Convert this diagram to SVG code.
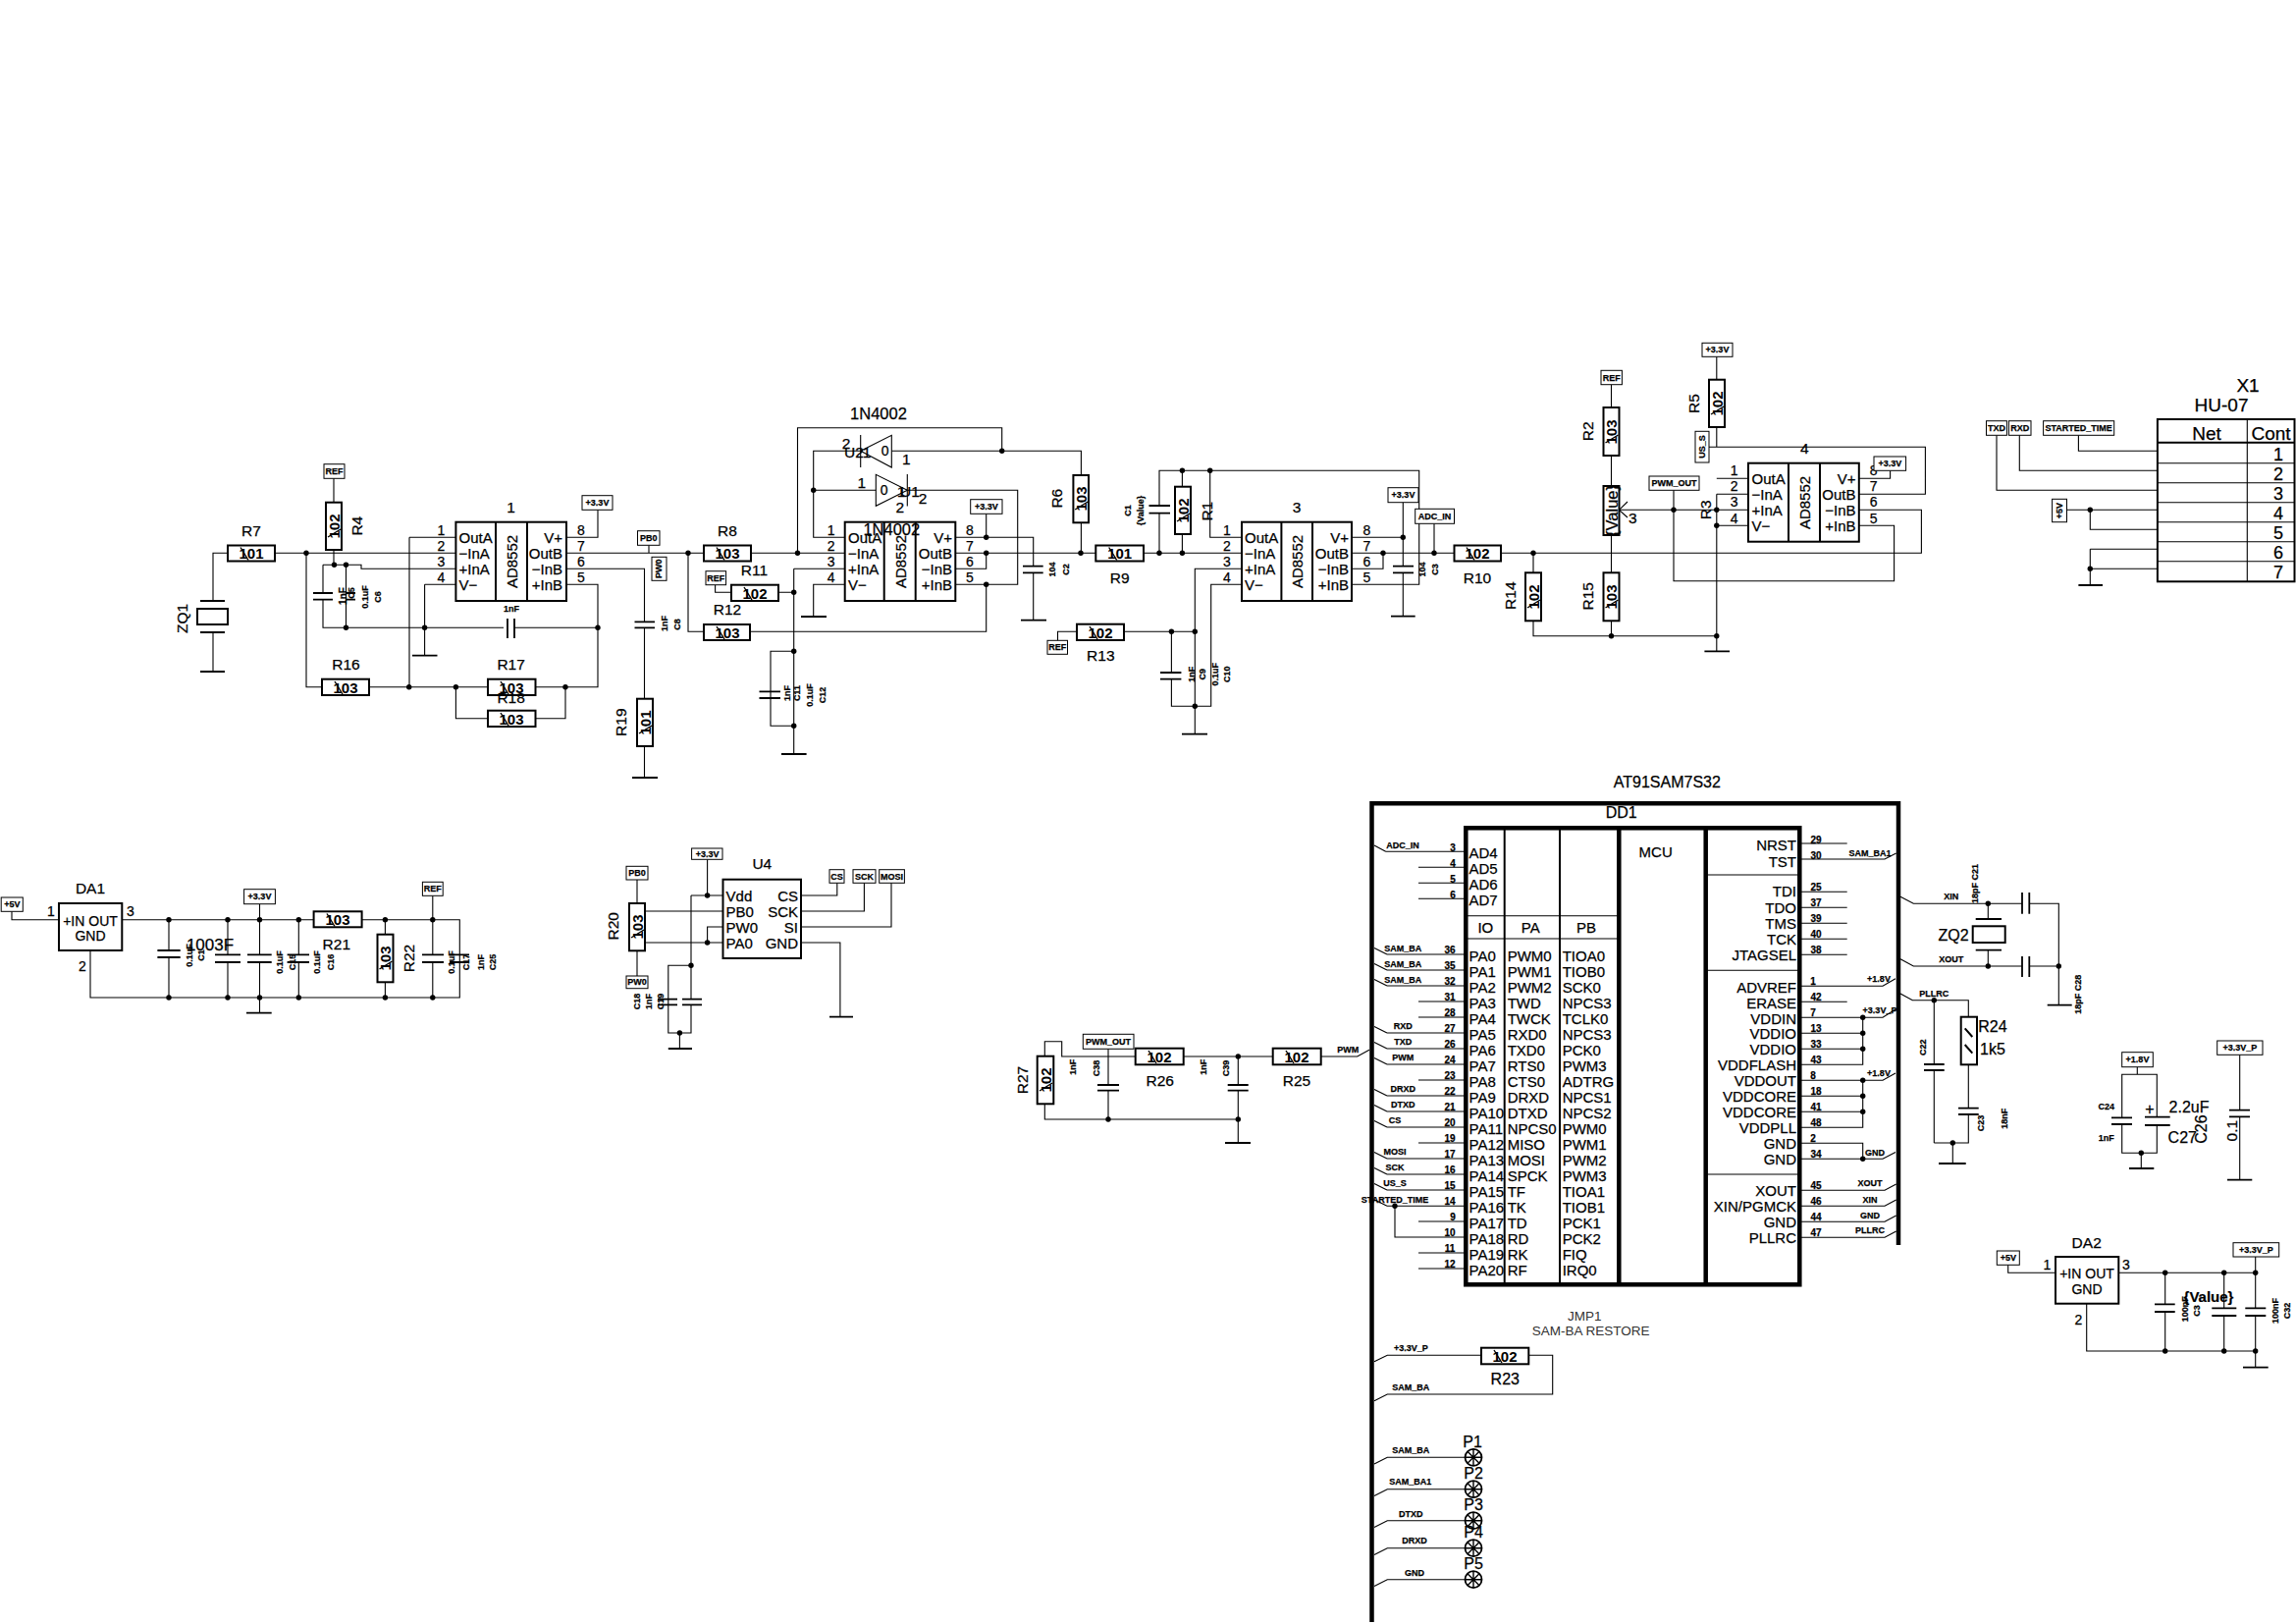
<svg xmlns="http://www.w3.org/2000/svg" width="2339" height="1654" viewBox="0 0 2339 1654">
<style>
text{font-family:"Liberation Sans",Arial,sans-serif;fill:#000;stroke:#000;stroke-width:.25;text-anchor:middle;dominant-baseline:central}
.l{font-size:15.5px}.p{font-size:14px}.i{font-size:15px;text-anchor:start}.e{font-size:15px;text-anchor:end}
.st{text-anchor:start}.dn{font-size:16.5px}
.s{font-size:9px;font-weight:700}.m{font-size:10px;font-weight:700}
.v{font-size:15px;font-weight:700;stroke-width:0}.big{font-size:19px}
.w,.pl,.r,.b,.c,.th,.sl{fill:none;stroke:#000}
.w{stroke-width:1.1}.pl{stroke-width:1.8}.r{stroke-width:2}.b{stroke-width:1;fill:#fff}.c{stroke-width:2}.th{stroke-width:4.5}.sl{stroke-width:1.4}
.d{fill:#000}
</style>
<defs>
<path id="sl" class="sl" d="M-11-6L-3 7"/>
<circle id="dot" class="d" r="2.7"/>
<g id="star"><circle r="8.5" fill="#fff" stroke="#000" stroke-width="1.8"/><path class="sl" d="M-8.5 0H8.5M-6-6L6 6M-6 6L6-6M0-8.5V8.5"/></g>
</defs>
<g id="connectors">
<path class="w" d="M232 563.3H217V612M217 644V684M280 563.3H464.4M312 563.3V699.7H328M340 487V512M340 560V575.3M329 575.3H368V579.3H464.4M329 575.3V604M329 611V639.3H513M524 639.3H609M352.5 575.3V639.3M417 547.3H464.4M417 547.3V699.7M432.6 595.3H464.4M432.6 595.3V667.7M376 699.7H497M545.5 699.7H609V595.3H577M464.4 699.7V731.7H497M545.5 731.7H576V699.7M577 547.3H609V519.3M577 563.3H717M577 579.3H656.5V633.3M656.5 639.3V711.7M656.5 760V792M661 555.3V563.3M701 563.3V643.3H717M765 563.3H860.7M812.5 563.3V435.7H1020.7V459.3M728.6 595.7V603.3H745M793 603.3H808.7M808.7 579.3V768M808.7 579.3H860.7M808.7 663.3H785V739.3H808.7"/>
<path class="w" d="M860.7 547.3H828.7V459.3H876.7M828.7 499.3H892.3M908.3 459.3H1101.4V484M1101.4 532.3V563.3M924.3 499.3H1036.7V595.3H973.3M1004.7 595.3V643.3H764M860.7 595.3H828.7V628M973.3 547.3H1052.7V576.7M1052.7 583.3V631.7M1004.7 547.3V523.3M973.3 563.3H1116.3M973.3 579.3H1004.7V563.3M1165 563.3H1265M1181 563.3V522.7M1181 515V479.3H1445.7V595.3H1377M1204.4 479.3V495.7M1204.4 544V563.3M1232.7 479.3V547.3H1265M1265 579.3H1217.3V747.7M1265 595.3H1233.7V719.3H1193.4V691.7M1193.4 685V643.3M1145 643.3H1217.3M1097 643.3H1077.5V652.3M1377 547.3H1429.3M1429.3 511.7V576.7M1429.3 583.3V627.7M1377 563.3H1481.5M1409 563.3V579.3H1377M1461 533.3V563.3"/>
<path class="w" d="M1529 563.3H1957.4V519.3H1893.8M1562 563.3V583.3M1562 632.3V647.7H1748.8M1641.5 391.7V415M1641.5 464V495M1641.5 545V583.3M1641.5 632.3V647.7M1649.4 519.3H1781M1705 499.3V591.7H1929.6V535.3H1893.8M1649.4 519.3L1658 511M1649.4 519.3L1658 527M1748.8 363.3V386.7M1748.8 435V455.3H1961.4V503.3H1893.8M1741 455.3H1748.8M1748.8 487.3H1781M1748.8 503.3H1781M1748.8 535.3H1781M1748.8 503.3V663.3M1893.8 487.3H1925.6V479.3"/>
<path class="w" d="M2034 443.3V499.3H2197.9M2057.3 443.3V479.3H2197.9M2117.4 443.3V459.3H2197.9M2105.5 519.3H2197.9M2129.3 519.3V539.3H2197.9M2129.3 559.3H2197.9M2129.3 559.3V596M2129.3 579.3H2197.9"/>
<path class="w" d="M12 928.3V936.7H60M124.3 936.7H319.6M368.6 936.7H468.3V1016H92V968M172 936.7V968M172 975V1016M232 936.7V972.3M232 980V1016M264.5 920.7V972.3M264.5 980V1031.7M304.3 936.7V972.3M304.3 980V1016M392.4 936.7V951.7M392.4 1000.3V1016M440.8 912.3V972.3M440.8 980V1016"/>
<path class="w" d="M720.6 875.3V912M704 912H736.5M704 912V1017.7M704 1023.3V1052H680.8V983.3H704M692.4 1052V1068M649 896V920M649 968.3V994M657 928H736.5M657 960H736.5M720.6 960V944H736.5M816 912H852.8V899.3M816 928H880.4V899.3M816 944H908V899.3M816 960H855.9V1035.7"/>
<path class="w" d="M1064.3 1075.7V1060.7H1081.7V1076H1156.7M1064.3 1124.3V1140H1261.3M1129 1068.3V1105M1129 1110.7V1140M1205.7 1076H1296.7M1261.3 1076V1105M1261.3 1110.7V1164M1345.7 1076H1382.7L1395 1069.3"/>
<path class="w" d="M1411.7 867.3H1493M1400 861L1411.7 867.3M1445 883.3H1493M1445 899.3H1493M1445 915.3H1493M1413 972H1493M1400 965.5L1413 972M1413 988H1493M1400 981.5L1413 988M1413 1004H1493M1400 997.5L1413 1004M1445 1020H1493M1445 1036H1493M1413 1052H1493M1400 1045.5L1413 1052M1413 1068H1493M1400 1061.5L1413 1068M1413 1084H1493M1400 1077.5L1413 1084M1445 1100H1493M1413 1116H1493M1400 1109.5L1413 1116M1413 1132H1493M1400 1125.5L1413 1132M1413 1148H1493M1400 1141.5L1413 1148M1445 1164H1493M1413 1180H1493M1400 1173.5L1413 1180M1413 1196H1493M1400 1189.5L1413 1196M1413 1212H1493M1400 1205.5L1413 1212M1413 1228.3H1493M1400 1221.8L1413 1228.3M1421 1228.3V1260H1493M1445 1244H1493M1445 1276H1493M1445 1292H1493"/>
<path class="w" d="M1833 859H1881.7M1833 875H1920L1931.7 869M1833 908.3H1881.7M1833 924.3H1881.7M1833 940.3H1881.7M1833 956.3H1881.7M1833 972.3H1881.7M1833 1004.3H1918L1931 996.7M1833 1020.3H1881.7M1833 1036.3H1918L1931 1028M1833 1052.3H1897.7M1833 1068.3H1897.7M1833 1084.3H1897.7V1036.3M1833 1100.3H1918L1931 1093M1833 1116.3H1897.7M1833 1132.3H1897.7M1833 1148.3H1897.7V1100.3M1833 1164.3H1897.7V1180.3M1833 1180.3H1918L1931 1173.5M1833 1212.3H1920L1931.7 1206M1833 1228.3H1920L1931.7 1222M1833 1244.3H1920L1931.7 1238M1833 1260.3H1920L1931.7 1254"/>
<path class="w" d="M1936 913.3L1949.3 920.3H2060M2067.3 920.3H2097.3V1023.7M1936 976.7L1949.3 984H2060M2067.3 984H2097.3M2025.3 920.3V936M2025.3 967.7V984M1936 1012L1948.3 1018.7H2005.3V1035.7M2005.3 1084.3V1128.7M2005.3 1135V1164H1970.3M1970.3 1018.7V1084M1970.3 1090V1164M1989.3 1164V1185"/>
<path class="w" d="M2177.3 1086.7V1094.3M2161.7 1138.3V1094.3H2197.3V1137.7M2161.7 1145V1174.3H2197.3V1146M2181.3 1174.3V1190M2281.7 1074.3V1130.7M2281.7 1137.3V1201.7M2045.7 1288.3V1296.3H2094M2158.3 1296.3H2297.7M2125.7 1327.7V1376H2297.7M2205.7 1296.3V1328.3M2205.7 1336V1376M2265.7 1296.3V1332.3M2265.7 1340V1376M2297.7 1280V1332.3M2297.7 1340V1392.7"/>
<path class="w" d="M1400 1386.7L1413.3 1380.3H1509M1557.3 1380.3H1581.7V1420H1413.3L1400 1426.7M1400 1491L1413.3 1484.3H1493M1400 1523.4L1413.3 1516.7H1493M1400 1555.4L1413.3 1548.7H1493M1400 1583.4L1413.3 1576.7H1493M1400 1615.4L1413.3 1608.7H1493"/>
<g id="junctions">
<use href="#dot" x="312" y="563.3"/><use href="#dot" x="340.5" y="575.3"/><use href="#dot" x="352.5" y="575.3"/><use href="#dot" x="352.5" y="639.3"/><use href="#dot" x="432.6" y="639.3"/><use href="#dot" x="609" y="639.3"/><use href="#dot" x="416.7" y="699.7"/><use href="#dot" x="464.4" y="699.7"/><use href="#dot" x="576" y="699.7"/><use href="#dot" x="701" y="563.3"/><use href="#dot" x="812.5" y="563.3"/><use href="#dot" x="808.7" y="603.3"/><use href="#dot" x="808.7" y="663.3"/><use href="#dot" x="808.7" y="739.3"/>
<use href="#dot" x="828.7" y="499.3"/><use href="#dot" x="1020.7" y="459.3"/><use href="#dot" x="1004.7" y="547.3"/><use href="#dot" x="1004.7" y="563.3"/><use href="#dot" x="1004.7" y="595.3"/><use href="#dot" x="1101" y="563.3"/><use href="#dot" x="1181" y="563.3"/><use href="#dot" x="1204.4" y="563.3"/><use href="#dot" x="1204.4" y="479.3"/><use href="#dot" x="1232.7" y="479.3"/><use href="#dot" x="1193.4" y="643.3"/><use href="#dot" x="1217.3" y="643.3"/><use href="#dot" x="1217.3" y="719.3"/><use href="#dot" x="1429.3" y="547.3"/><use href="#dot" x="1409" y="563.3"/><use href="#dot" x="1461" y="563.3"/><use href="#dot" x="1562" y="563.3"/>
<use href="#dot" x="1641.5" y="647.7"/><use href="#dot" x="1748.8" y="647.7"/><use href="#dot" x="1705" y="519.3"/><use href="#dot" x="1748.8" y="519.3"/><use href="#dot" x="1748.8" y="535.3"/><use href="#dot" x="2129.3" y="519.3"/><use href="#dot" x="2129.3" y="579.3"/>
<use href="#dot" x="172" y="936.7"/><use href="#dot" x="232" y="936.7"/><use href="#dot" x="264.5" y="936.7"/><use href="#dot" x="304.3" y="936.7"/><use href="#dot" x="392.4" y="936.7"/><use href="#dot" x="440.8" y="936.7"/><use href="#dot" x="172" y="1016"/><use href="#dot" x="232" y="1016"/><use href="#dot" x="264.5" y="1016"/><use href="#dot" x="304.3" y="1016"/><use href="#dot" x="392.4" y="1016"/><use href="#dot" x="440.8" y="1016"/>
<use href="#dot" x="720.6" y="912"/><use href="#dot" x="720.6" y="960"/><use href="#dot" x="704" y="983.3"/><use href="#dot" x="692.4" y="1052"/>
<use href="#dot" x="1129" y="1140"/><use href="#dot" x="1261.3" y="1140"/><use href="#dot" x="1261.3" y="1076"/>
<use href="#dot" x="1421" y="1228.3"/><use href="#dot" x="1897.7" y="1036.3"/><use href="#dot" x="1897.7" y="1052.3"/><use href="#dot" x="1897.7" y="1068.3"/><use href="#dot" x="1897.7" y="1100.3"/><use href="#dot" x="1897.7" y="1116.3"/><use href="#dot" x="1897.7" y="1132.3"/><use href="#dot" x="1897.7" y="1180.3"/>
<use href="#dot" x="2025.3" y="920.3"/><use href="#dot" x="2025.3" y="984"/><use href="#dot" x="2097.3" y="984"/><use href="#dot" x="1970.3" y="1018.7"/><use href="#dot" x="1989.3" y="1164"/><use href="#dot" x="2181.3" y="1174.3"/>
<use href="#dot" x="2205.7" y="1296.3"/><use href="#dot" x="2265.7" y="1296.3"/><use href="#dot" x="2297.7" y="1296.3"/><use href="#dot" x="2205.7" y="1376"/><use href="#dot" x="2265.7" y="1376"/><use href="#dot" x="2297.7" y="1376"/>
</g>
<path id="grounds" class="pl" d="M204 684H229M420 667.7H445.5M644 792H670M796 768H821.6M816 628H842M1040 631.7H1066M1204 747.7H1230M1417 627.7H1441.7M1736.4 663.3H1762M2117.4 596H2142M251 1031.7H276.7M680.8 1068H705M845 1035.7H869M1248 1164H1274M2085.7 1023.7H2110.7M1975 1185H2002.7M2169 1190H2194.3M2269 1201.7H2294.3M2285 1392.7H2310.7"/>
</g>

<g id="ZQ1"><path class="pl" d="M204 612H229M204 644H229"/><rect class="r" x="201" y="620" width="31" height="16"/><text class="l" transform="rotate(-90 185 630)" x="185" y="630">ZQ1</text></g>
<g id="R7"><rect class="r" x="232" y="555.5" width="48" height="16"/><text class="v" x="256" y="563.5">101</text><use href="#sl" x="256" y="563.5"/><text class="l" x="256" y="540">R7</text></g>
<g id="R4"><rect class="r" x="332" y="511.7" width="16" height="48.3"/><text class="v" transform="rotate(-90 340 536)" x="340" y="536">102</text><use href="#sl" transform="translate(340 536) rotate(-90)"/><text class="l" transform="rotate(-90 364 535.7)" x="364" y="535.7">R4</text><rect class="b" x="330" y="472.7" width="21" height="14.6"/><text class="s" x="340.5" y="480">REF</text></g>
<g id="C5C6"><path class="pl" d="M319 604H339M319 610.7H339M352.5 604H362M352.5 610.7H362"/><text class="m" transform="rotate(-90 349 607)" x="349" y="607">1nF</text><text class="s" transform="rotate(-90 358 604)" x="358" y="604">C5</text><text class="s" transform="rotate(-90 372 608)" x="372" y="608">0.1uF</text><text class="s" transform="rotate(-90 385 608)" x="385" y="608">C6</text></g>
<g id="C7"><path class="pl" d="M517 630V650M524 630V650"/><text class="s" x="521" y="620">1nF</text></g>
<g id="IC1"><rect class="r" x="464.4" y="531.7" width="112.6" height="80.3"/><path class="r" d="M505 531.7V612M537 531.7V612"/><text class="l" x="520.6" y="516.7">1</text>
<text class="p" x="449.5" y="540">1</text><text class="p" x="449.5" y="556">2</text><text class="p" x="449.5" y="572">3</text><text class="p" x="449.5" y="588.3">4</text>
<text class="i" x="467.5" y="547.3">OutA</text><text class="i" x="467.5" y="563.3">−InA</text><text class="i" x="467.5" y="579.3">+InA</text><text class="i" x="467.5" y="595.3">V−</text>
<text class="p" transform="rotate(-90 521 572)" x="521" y="572" style="font-size:15px">AD8552</text>
<text class="e" x="573" y="547.3">V+</text><text class="e" x="573" y="563.3">OutB</text><text class="e" x="573" y="579.3">−InB</text><text class="e" x="573" y="595.3">+InB</text>
<text class="p" x="592" y="540">8</text><text class="p" x="592" y="556">7</text><text class="p" x="592" y="572">6</text><text class="p" x="592" y="588.3">5</text>
<rect class="b" x="593" y="504.7" width="31" height="14.6"/><text class="s" x="608.5" y="512">+3.3V</text></g>
<g id="R16"><rect class="r" x="328" y="691.7" width="48" height="16.3"/><text class="v" x="352" y="700">103</text><use href="#sl" x="352" y="700"/><text class="l" x="352.5" y="676">R16</text></g>
<g id="R17"><rect class="r" x="497" y="691.7" width="48.5" height="16.3"/><text class="v" x="521" y="700">103</text><use href="#sl" x="521" y="700"/><text class="l" x="520.6" y="676">R17</text></g>
<g id="R18"><rect class="r" x="497" y="723.7" width="48.5" height="16.3"/><text class="v" x="521" y="732">103</text><use href="#sl" x="521" y="732"/><text class="l" x="520.6" y="710">R18</text></g>
<g id="PB0a"><rect class="b" x="649.5" y="540.7" width="22.5" height="14.6"/><text class="s" x="660.7" y="548">PB0</text></g>
<g id="PW0a"><rect class="b" x="664" y="567.3" width="15" height="24"/><text class="s" transform="rotate(-90 671.5 579.3)" x="671.5" y="579.3">PW0</text></g>
<g id="C8"><path class="pl" d="M646.5 633.3H667M646.5 639.3H667"/><text class="s" transform="rotate(-90 677 635)" x="677" y="635">1nF</text><text class="s" transform="rotate(-90 690 636)" x="690" y="636">C8</text></g>
<g id="R19"><rect class="r" x="649" y="711.7" width="16" height="48.3"/><text class="v" transform="rotate(-90 657 736)" x="657" y="736">101</text><use href="#sl" transform="translate(657 736) rotate(-90)"/><text class="l" transform="rotate(-90 632.6 735.7)" x="632.6" y="735.7">R19</text></g>
<g id="R8"><rect class="r" x="717" y="555.5" width="48" height="16"/><text class="v" x="741" y="563.5">103</text><use href="#sl" x="741" y="563.5"/><text class="l" x="741" y="540">R8</text></g>
<g id="R12"><rect class="r" x="717" y="636" width="47" height="16"/><text class="v" x="741" y="644">103</text><use href="#sl" x="741" y="644"/><text class="l" x="741" y="620">R12</text></g>
<g id="R11"><rect class="r" x="745" y="595.7" width="48" height="16.3"/><text class="v" x="769" y="604">102</text><use href="#sl" x="769" y="604"/><text class="l" x="768.4" y="580">R11</text><rect class="b" x="719" y="581.7" width="20.6" height="14"/><text class="s" x="729.3" y="588.7">REF</text></g>
<g id="C11C12"><path class="pl" d="M773.5 704.3H795M773.5 711H795"/><text class="s" transform="rotate(-90 802 706)" x="802" y="706">1nF</text><text class="s" transform="rotate(-90 812 706)" x="812" y="706">C11</text><text class="s" transform="rotate(-90 825 708)" x="825" y="708">0.1uF</text><text class="s" transform="rotate(-90 838 708)" x="838" y="708">C12</text></g>
<g id="U2"><path class="w" d="M876.7 443V476M876.7 459.3L908.3 443.3V476Z"/><text class="l" x="862" y="451.7">2</text><text class="l" x="870" y="460">U2</text><text class="l" x="883" y="460">1</text><text class="p" x="901.7" y="459.3">0</text><text class="l" x="923.3" y="467.7">1</text><text class="dn" x="895" y="420.7">1N4002</text></g>
<g id="U1"><path class="w" d="M924.3 483V515.5M924.3 499.3L892.3 483.3V515.3Z"/><text class="l" x="877.7" y="491.3">1</text><text class="p" x="900.7" y="499.3">0</text><text class="l" x="918" y="500">1</text><text class="l" x="927" y="500">U1</text><text class="l" x="940" y="507.3">2</text><text class="l" x="916.7" y="516">2</text><text class="dn" x="908.3" y="539.3">1N4002</text></g>
<g id="IC2"><rect class="r" x="860.7" y="531.7" width="112.6" height="80.3"/><path class="r" d="M900.7 531.7V612M932.7 531.7V612"/>
<text class="p" x="846.7" y="540">1</text><text class="p" x="846.7" y="556">2</text><text class="p" x="846.7" y="572">3</text><text class="p" x="846.7" y="588.3">4</text>
<text class="i" x="864" y="547.3">OutA</text><text class="i" x="864" y="563.3">−InA</text><text class="i" x="864" y="579.3">+InA</text><text class="i" x="864" y="595.3">V−</text>
<text class="p" transform="rotate(-90 917 572)" x="917" y="572" style="font-size:15px">AD8552</text>
<text class="e" x="970" y="547.3">V+</text><text class="e" x="970" y="563.3">OutB</text><text class="e" x="970" y="579.3">−InB</text><text class="e" x="970" y="595.3">+InB</text>
<text class="p" x="988" y="540">8</text><text class="p" x="988" y="556">7</text><text class="p" x="988" y="572">6</text><text class="p" x="988" y="588.3">5</text>
<rect class="b" x="988.7" y="508.7" width="32.3" height="14.6"/><text class="s" x="1004.8" y="516">+3.3V</text></g>
<g id="C2"><path class="pl" d="M1042 576.7H1062.7M1042 583.3H1062.7"/><text class="s" transform="rotate(-90 1072 580)" x="1072" y="580">104</text><text class="s" transform="rotate(-90 1086 580)" x="1086" y="580">C2</text></g>
<g id="R6"><rect class="r" x="1093.4" y="484" width="15.6" height="48.3"/><text class="v" transform="rotate(-90 1101.2 508)" x="1101.2" y="508">103</text><use href="#sl" transform="translate(1101.2 508) rotate(-90)"/><text class="l" transform="rotate(-90 1077 507.7)" x="1077" y="507.7">R6</text></g>
<g id="R9"><rect class="r" x="1116.3" y="555.5" width="48.7" height="16"/><text class="v" x="1140.7" y="563.5">101</text><use href="#sl" x="1140.7" y="563.5"/><text class="l" x="1140.7" y="588.3">R9</text></g>
<g id="C1"><path class="pl" d="M1170.5 515H1192M1170.5 522.7H1192"/><text class="s" transform="rotate(-90 1149 520)" x="1149" y="520">C1</text><text class="s" transform="rotate(-90 1161.6 520)" x="1161.6" y="520">{Value}</text></g>
<g id="R1"><rect class="r" x="1197" y="495.7" width="16" height="48.3"/><text class="v" transform="rotate(-90 1205 520)" x="1205" y="520">102</text><use href="#sl" transform="translate(1205 520) rotate(-90)"/><text class="l" transform="rotate(-90 1229.7 520.7)" x="1229.7" y="520.7">R1</text></g>
<g id="R13"><rect class="r" x="1097" y="635.7" width="48" height="16.3"/><text class="v" x="1121" y="644">102</text><use href="#sl" x="1121" y="644"/><text class="l" x="1121.3" y="667.7">R13</text><rect class="b" x="1067" y="652.3" width="20.5" height="14"/><text class="s" x="1077.2" y="659.3">REF</text></g>
<g id="C9C10"><path class="pl" d="M1182 685H1203.4M1182 691.7H1203.4"/><text class="s" transform="rotate(-90 1214 686.7)" x="1214" y="686.7">1nF</text><text class="s" transform="rotate(-90 1225 686.7)" x="1225" y="686.7">C9</text><text class="s" transform="rotate(-90 1237.7 686.7)" x="1237.7" y="686.7">0.1uF</text><text class="s" transform="rotate(-90 1250 686.7)" x="1250" y="686.7">C10</text></g>
<g id="IC3"><rect class="r" x="1265" y="531.7" width="112" height="80.3"/><path class="r" d="M1305.4 531.7V612M1337 531.7V612"/><text class="l" x="1321" y="516">3</text>
<text class="p" x="1250" y="540">1</text><text class="p" x="1250" y="556">2</text><text class="p" x="1250" y="572">3</text><text class="p" x="1250" y="588.3">4</text>
<text class="i" x="1268" y="547.3">OutA</text><text class="i" x="1268" y="563.3">−InA</text><text class="i" x="1268" y="579.3">+InA</text><text class="i" x="1268" y="595.3">V−</text>
<text class="p" transform="rotate(-90 1321 572)" x="1321" y="572" style="font-size:15px">AD8552</text>
<text class="e" x="1374" y="547.3">V+</text><text class="e" x="1374" y="563.3">OutB</text><text class="e" x="1374" y="579.3">−InB</text><text class="e" x="1374" y="595.3">+InB</text>
<text class="p" x="1392.4" y="540">8</text><text class="p" x="1392.4" y="556">7</text><text class="p" x="1392.4" y="572">6</text><text class="p" x="1392.4" y="588.3">5</text></g>
<g id="C3"><path class="pl" d="M1419 576.7H1440M1419 583.3H1440"/><text class="s" transform="rotate(-90 1449 580)" x="1449" y="580">104</text><text class="s" transform="rotate(-90 1461.6 580)" x="1461.6" y="580">C3</text><rect class="b" x="1414" y="496.7" width="31" height="15"/><text class="s" x="1429.5" y="504">+3.3V</text><rect class="b" x="1441.7" y="518.3" width="39.8" height="15"/><text class="s" x="1461.6" y="525.8">ADC_IN</text></g>
<g id="R10"><rect class="r" x="1481.5" y="555.5" width="47.5" height="16"/><text class="v" x="1505" y="563.5">102</text><use href="#sl" x="1505" y="563.5"/><text class="l" x="1505" y="588">R10</text></g>
<g id="R14"><rect class="r" x="1554" y="583.3" width="16" height="49"/><text class="v" transform="rotate(-90 1562 608)" x="1562" y="608">102</text><use href="#sl" transform="translate(1562 608) rotate(-90)"/><text class="l" transform="rotate(-90 1538.7 606.7)" x="1538.7" y="606.7">R14</text></g>
<g id="R15"><rect class="r" x="1633.5" y="583.3" width="16" height="49"/><text class="v" transform="rotate(-90 1641.5 608)" x="1641.5" y="608">103</text><use href="#sl" transform="translate(1641.5 608) rotate(-90)"/><text class="l" transform="rotate(-90 1617.6 607.3)" x="1617.6" y="607.3">R15</text></g>
<g id="R2"><rect class="r" x="1633.5" y="415" width="16" height="49"/><text class="v" transform="rotate(-90 1641.5 440)" x="1641.5" y="440">103</text><use href="#sl" transform="translate(1641.5 440) rotate(-90)"/><text class="l" transform="rotate(-90 1617.6 439.3)" x="1617.6" y="439.3">R2</text><rect class="b" x="1631" y="377.3" width="21.4" height="14.4"/><text class="s" x="1641.7" y="384.5">REF</text></g>
<g id="R3"><rect class="r" x="1633.5" y="495" width="16" height="50"/><text class="l" transform="rotate(-90 1641.5 520)" x="1641.5" y="520" style="font-size:16.5px">{Value}</text><text class="l" x="1663.3" y="527.3">3</text><text class="l" transform="rotate(-90 1737.9 519.3)" x="1737.9" y="519.3">R3</text><rect class="b" x="1680" y="485" width="51" height="14.3"/><text class="s" x="1705.5" y="492">PWM_OUT</text></g>
<g id="R5"><rect class="r" x="1741" y="386.7" width="16" height="48.3"/><text class="v" transform="rotate(-90 1749 411)" x="1749" y="411">102</text><use href="#sl" transform="translate(1749 411) rotate(-90)"/><text class="l" transform="rotate(-90 1725.4 411)" x="1725.4" y="411">R5</text><rect class="b" x="1734" y="349.3" width="31" height="14"/><text class="s" x="1749.5" y="356.3">+3.3V</text><rect class="b" x="1727" y="439.3" width="14" height="31.7"/><text class="s" transform="rotate(-90 1734 455)" x="1734" y="455">US_S</text></g>
<g id="IC4"><rect class="r" x="1781" y="471.7" width="112.8" height="80"/><path class="r" d="M1822 471.7V551.7M1854 471.7V551.7"/><text class="l" x="1838.2" y="456">4</text>
<text class="p" x="1766.7" y="479">1</text><text class="p" x="1766.7" y="495">2</text><text class="p" x="1766.7" y="511">3</text><text class="p" x="1766.7" y="528">4</text>
<text class="i" x="1784.5" y="487.3">OutA</text><text class="i" x="1784.5" y="503.3">−InA</text><text class="i" x="1784.5" y="519.3">+InA</text><text class="i" x="1784.5" y="535.3">V−</text>
<text class="p" transform="rotate(-90 1838 512)" x="1838" y="512" style="font-size:15px">AD8552</text>
<text class="e" x="1890.5" y="487.3">V+</text><text class="e" x="1890.5" y="503.3">OutB</text><text class="e" x="1890.5" y="519.3">−InB</text><text class="e" x="1890.5" y="535.3">+InB</text>
<text class="p" x="1908.7" y="479">8</text><text class="p" x="1908.7" y="495">7</text><text class="p" x="1908.7" y="511">6</text><text class="p" x="1908.7" y="528">5</text>
<rect class="b" x="1909" y="465" width="32.6" height="14.3"/><text class="s" x="1925.3" y="472">+3.3V</text></g>
<g id="X1"><rect class="r" x="2197.9" y="427" width="139.6" height="165.3"/><path class="w" d="M2197.9 471.7H2337.5M2197.9 491.7H2337.5M2197.9 511.7H2337.5M2197.9 531.7H2337.5M2197.9 551.7H2337.5M2197.9 571.7H2337.5M2289.3 427V592.3"/><path class="r" d="M2197.9 450.7H2337.5"/>
<text class="big" x="2248" y="441">Net</text><text class="big" x="2313.5" y="441">Cont</text><text class="l" x="2321" y="463" style="font-size:18px">1</text><text class="l" x="2321" y="483" style="font-size:18px">2</text><text class="l" x="2321" y="503" style="font-size:18px">3</text><text class="l" x="2321" y="523" style="font-size:18px">4</text><text class="l" x="2321" y="543" style="font-size:18px">5</text><text class="l" x="2321" y="563" style="font-size:18px">6</text><text class="l" x="2321" y="583" style="font-size:18px">7</text>
<text class="big" x="2290" y="392.7">X1</text><text class="big" x="2263" y="412.7">HU-07</text>
<rect class="b" x="2023.5" y="428.7" width="20.9" height="14.6"/><text class="s" x="2034" y="436">TXD</text><rect class="b" x="2046.4" y="428.7" width="22.6" height="14.6"/><text class="s" x="2057.7" y="436">RXD</text><rect class="b" x="2081.6" y="428.7" width="72.1" height="14.6"/><text class="s" x="2117.6" y="436">STARTED_TIME</text>
<rect class="b" x="2090.6" y="508.3" width="14.9" height="23.4"/><text class="s" transform="rotate(-90 2098 520)" x="2098" y="520">+5V</text></g>
<g id="DA1"><rect class="r" x="60" y="920" width="64.3" height="48"/><text class="l" x="92" y="904.3">DA1</text><text class="p" x="92" y="938">+IN OUT</text><text class="p" x="92" y="953">GND</text><text class="p" x="52" y="928">1</text><text class="p" x="133" y="927.7">3</text><text class="p" x="84" y="984.3">2</text><rect class="b" x="1.2" y="914" width="22.1" height="14.3"/><text class="s" x="12.3" y="921">+5V</text></g>
<g id="DA1caps"><path class="pl" d="M160.4 968H183.7M160.4 975H183.7M219 972.3H245M219 980H245M252 972.3H276.7M252 980H276.7M292.6 972.3H315M292.6 980H315M430 972.3H452M430 980H452M458 972.3H478M458 980H478"/>
<text class="s" transform="rotate(-90 193 973)" x="193" y="973">0.1uF</text><text class="s" transform="rotate(-90 205 973)" x="205" y="973">C1</text><text class="l" x="214" y="962.7" style="font-size:17px">1003F</text><text class="s" transform="rotate(-90 285 980)" x="285" y="980">0.1uF</text><text class="s" transform="rotate(-90 298 980)" x="298" y="980">C15</text><text class="s" transform="rotate(-90 323 980)" x="323" y="980">0.1uF</text><text class="s" transform="rotate(-90 336.7 980)" x="336.7" y="980">C16</text><text class="s" transform="rotate(-90 460 980)" x="460" y="980">0.1uF</text><text class="s" transform="rotate(-90 474.5 980)" x="474.5" y="980">C17</text><text class="s" transform="rotate(-90 490 980)" x="490" y="980">1nF</text><text class="s" transform="rotate(-90 502 980)" x="502" y="980">C25</text>
<rect class="b" x="248.6" y="905.7" width="31.8" height="15"/><text class="s" x="264.5" y="913">+3.3V</text><rect class="b" x="430.4" y="898.3" width="20.8" height="14"/><text class="s" x="440.8" y="905.3">REF</text></g>
<g id="R21"><rect class="r" x="319.6" y="928.3" width="49" height="16"/><text class="v" x="344" y="936.5">103</text><use href="#sl" x="344" y="936.5"/><text class="l" x="342.8" y="961.7">R21</text></g>
<g id="R22"><rect class="r" x="384.5" y="951.7" width="16" height="48.6"/><text class="v" transform="rotate(-90 392.5 976)" x="392.5" y="976">103</text><use href="#sl" transform="translate(392.5 976) rotate(-90)"/><text class="l" transform="rotate(-90 416.3 976)" x="416.3" y="976">R22</text></g>
<g id="U4"><rect class="r" x="736.5" y="895.7" width="79.5" height="80.3"/><text class="l" x="776.3" y="879.3">U4</text>
<text class="i" x="739.6" y="912">Vdd</text><text class="i" x="739.6" y="928">PB0</text><text class="i" x="739.6" y="944">PW0</text><text class="i" x="739.6" y="960">PA0</text><text class="e" x="813" y="912">CS</text><text class="e" x="813" y="928">SCK</text><text class="e" x="813" y="944">SI</text><text class="e" x="813" y="960">GND</text>
<rect class="b" x="704.6" y="864" width="31.4" height="11.3"/><text class="s" x="720.6" y="869.7">+3.3V</text><rect class="b" x="845" y="885.7" width="15" height="13.6"/><text class="s" x="852.5" y="892.5">CS</text><rect class="b" x="869" y="885.7" width="23" height="13.6"/><text class="s" x="880.5" y="892.5">SCK</text><rect class="b" x="895.7" y="885.7" width="25.7" height="13.6"/><text class="s" x="908.5" y="892.5">MOSI</text></g>
<g id="R20"><rect class="r" x="641" y="920" width="16" height="48.3"/><text class="v" transform="rotate(-90 649 944)" x="649" y="944">103</text><use href="#sl" transform="translate(649 944) rotate(-90)"/><text class="l" transform="rotate(-90 624.4 943.3)" x="624.4" y="943.3">R20</text><rect class="b" x="638" y="882.3" width="22" height="13.7"/><text class="s" x="649" y="889">PB0</text><rect class="b" x="638" y="994" width="22" height="12.7"/><text class="s" x="649" y="1000.3">PW0</text></g>
<g id="C18C19"><path class="pl" d="M695 1017.7H715M695 1023.3H715M670 1017.7H690M670 1023.3H690"/><text class="s" transform="rotate(-90 649 1020)" x="649" y="1020">C18</text><text class="s" transform="rotate(-90 661 1020)" x="661" y="1020">1nF</text><text class="s" transform="rotate(-90 673 1020)" x="673" y="1020">C19</text></g>
<g id="R27"><rect class="r" x="1056.7" y="1075.7" width="16.6" height="48.6"/><text class="v" transform="rotate(-90 1065 1100)" x="1065" y="1100">102</text><use href="#sl" transform="translate(1065 1100) rotate(-90)"/><text class="l" transform="rotate(-90 1041.7 1100)" x="1041.7" y="1100">R27</text></g>
<g id="C38"><path class="pl" d="M1118 1105H1140M1118 1110.7H1140"/><text class="s" transform="rotate(-90 1093.3 1086.7)" x="1093.3" y="1086.7">1nF</text><text class="s" transform="rotate(-90 1116.7 1088)" x="1116.7" y="1088">C38</text><rect class="b" x="1103.3" y="1053.3" width="51.7" height="15"/><text class="s" x="1129" y="1060.8">PWM_OUT</text></g>
<g id="R26"><rect class="r" x="1156.7" y="1067.7" width="49" height="16.6"/><text class="v" x="1181" y="1076">102</text><use href="#sl" x="1181" y="1076"/><text class="l" x="1181.7" y="1100.7">R26</text></g>
<g id="C39"><path class="pl" d="M1250.7 1105H1271.7M1250.7 1110.7H1271.7"/><text class="s" transform="rotate(-90 1225.7 1086.7)" x="1225.7" y="1086.7">1nF</text><text class="s" transform="rotate(-90 1249 1088)" x="1249" y="1088">C39</text></g>
<g id="R25"><rect class="r" x="1296.7" y="1067.7" width="49" height="16.6"/><text class="v" x="1321" y="1076">102</text><use href="#sl" x="1321" y="1076"/><text class="l" x="1321" y="1100.7">R25</text><text class="s" x="1373.3" y="1069">PWM</text></g>

<g id="DD1frame"><path class="th" d="M1397.5 1652V818.3H1934V1268"/><text class="l" x="1698.3" y="796" style="font-size:16px">AT91SAM7S32</text><text class="l" x="1651.7" y="827.3" style="font-size:16px">DD1</text></g>
<g id="DD1"><rect class="th" x="1493.3" y="843.3" width="340" height="465"/><path class="c" d="M1532.7 843.3V1308M1589 843.3V1308"/><path class="th" d="M1649.3 843.3V1308M1737.7 843.3V1308"/><path class="w" d="M1493.3 932.7H1649.3M1493.3 956H1649.3M1737.7 891H1833.3M1737.7 988.3H1833.3M1737.7 1196H1833.3"/>
<text class="l" x="1686.7" y="867.3" style="font-size:15px">MCU</text><text class="p" x="1513.3" y="944" style="font-size:15px">IO</text><text class="p" x="1559.3" y="944" style="font-size:15px">PA</text><text class="p" x="1616" y="944" style="font-size:15px">PB</text>
<text class="i" x="1496.5" y="868.7">AD4</text><text class="i" x="1496.5" y="884.7">AD5</text><text class="i" x="1496.5" y="900.7">AD6</text><text class="i" x="1496.5" y="916.7">AD7</text>
<g class="io"><text class="i" x="1496.5" y="973">PA0</text><text class="i" x="1496.5" y="989">PA1</text><text class="i" x="1496.5" y="1005">PA2</text><text class="i" x="1496.5" y="1021">PA3</text><text class="i" x="1496.5" y="1037">PA4</text><text class="i" x="1496.5" y="1053">PA5</text><text class="i" x="1496.5" y="1069">PA6</text><text class="i" x="1496.5" y="1085">PA7</text><text class="i" x="1496.5" y="1101">PA8</text><text class="i" x="1496.5" y="1117">PA9</text><text class="i" x="1496.5" y="1133">PA10</text><text class="i" x="1496.5" y="1149">PA11</text><text class="i" x="1496.5" y="1165">PA12</text><text class="i" x="1496.5" y="1181">PA13</text><text class="i" x="1496.5" y="1197">PA14</text><text class="i" x="1496.5" y="1213">PA15</text><text class="i" x="1496.5" y="1229">PA16</text><text class="i" x="1496.5" y="1245">PA17</text><text class="i" x="1496.5" y="1261">PA18</text><text class="i" x="1496.5" y="1277">PA19</text><text class="i" x="1496.5" y="1293">PA20</text></g>
<g class="pa"><text class="i" x="1535.7" y="973">PWM0</text><text class="i" x="1535.7" y="989">PWM1</text><text class="i" x="1535.7" y="1005">PWM2</text><text class="i" x="1535.7" y="1021">TWD</text><text class="i" x="1535.7" y="1037">TWCK</text><text class="i" x="1535.7" y="1053">RXD0</text><text class="i" x="1535.7" y="1069">TXD0</text><text class="i" x="1535.7" y="1085">RTS0</text><text class="i" x="1535.7" y="1101">CTS0</text><text class="i" x="1535.7" y="1117">DRXD</text><text class="i" x="1535.7" y="1133">DTXD</text><text class="i" x="1535.7" y="1149">NPCS0</text><text class="i" x="1535.7" y="1165">MISO</text><text class="i" x="1535.7" y="1181">MOSI</text><text class="i" x="1535.7" y="1197">SPCK</text><text class="i" x="1535.7" y="1213">TF</text><text class="i" x="1535.7" y="1229">TK</text><text class="i" x="1535.7" y="1245">TD</text><text class="i" x="1535.7" y="1261">RD</text><text class="i" x="1535.7" y="1277">RK</text><text class="i" x="1535.7" y="1293">RF</text></g>
<g class="pb"><text class="i" x="1591.7" y="973">TIOA0</text><text class="i" x="1591.7" y="989">TIOB0</text><text class="i" x="1591.7" y="1005">SCK0</text><text class="i" x="1591.7" y="1021">NPCS3</text><text class="i" x="1591.7" y="1037">TCLK0</text><text class="i" x="1591.7" y="1053">NPCS3</text><text class="i" x="1591.7" y="1069">PCK0</text><text class="i" x="1591.7" y="1085">PWM3</text><text class="i" x="1591.7" y="1101">ADTRG</text><text class="i" x="1591.7" y="1117">NPCS1</text><text class="i" x="1591.7" y="1133">NPCS2</text><text class="i" x="1591.7" y="1149">PWM0</text><text class="i" x="1591.7" y="1165">PWM1</text><text class="i" x="1591.7" y="1181">PWM2</text><text class="i" x="1591.7" y="1197">PWM3</text><text class="i" x="1591.7" y="1213">TIOA1</text><text class="i" x="1591.7" y="1229">TIOB1</text><text class="i" x="1591.7" y="1245">PCK1</text><text class="i" x="1591.7" y="1261">PCK2</text><text class="i" x="1591.7" y="1277">FIQ</text><text class="i" x="1591.7" y="1293">IRQ0</text></g>
<g class="rt"><text class="e" x="1830" y="860.7">NRST</text><text class="e" x="1830" y="877.3">TST</text><text class="e" x="1830" y="907.7">TDI</text><text class="e" x="1830" y="924.3">TDO</text><text class="e" x="1830" y="940.3">TMS</text><text class="e" x="1830" y="956.3">TCK</text><text class="e" x="1830" y="972.3">JTAGSEL</text><text class="e" x="1830" y="1005">ADVREF</text><text class="e" x="1830" y="1021">ERASE</text><text class="e" x="1830" y="1037">VDDIN</text><text class="e" x="1830" y="1052.3">VDDIO</text><text class="e" x="1830" y="1068.3">VDDIO</text><text class="e" x="1830" y="1084.3">VDDFLASH</text><text class="e" x="1830" y="1100.3">VDDOUT</text><text class="e" x="1830" y="1116.3">VDDCORE</text><text class="e" x="1830" y="1132.3">VDDCORE</text><text class="e" x="1830" y="1148.3">VDDPLL</text><text class="e" x="1830" y="1164.3">GND</text><text class="e" x="1830" y="1180.3">GND</text><text class="e" x="1830" y="1212.3">XOUT</text><text class="e" x="1830" y="1228.3">XIN/PGMCK</text><text class="e" x="1830" y="1244.3">GND</text><text class="e" x="1830" y="1260.3">PLLRC</text></g>
<g class="lnum"><text class="m" x="1480" y="863">3</text><text class="m" x="1480" y="879">4</text><text class="m" x="1480" y="895">5</text><text class="m" x="1480" y="911">6</text><text class="m" x="1477" y="967">36</text><text class="m" x="1477" y="983">35</text><text class="m" x="1477" y="999">32</text><text class="m" x="1477" y="1015">31</text><text class="m" x="1477" y="1031">28</text><text class="m" x="1477" y="1047">27</text><text class="m" x="1477" y="1063">26</text><text class="m" x="1477" y="1079">24</text><text class="m" x="1477" y="1095">23</text><text class="m" x="1477" y="1111">22</text><text class="m" x="1477" y="1127">21</text><text class="m" x="1477" y="1143">20</text><text class="m" x="1477" y="1159">19</text><text class="m" x="1477" y="1175">17</text><text class="m" x="1477" y="1191">16</text><text class="m" x="1477" y="1207">15</text><text class="m" x="1477" y="1223">14</text><text class="m" x="1480" y="1239">9</text><text class="m" x="1477" y="1255">10</text><text class="m" x="1477" y="1271">11</text><text class="m" x="1477" y="1287">12</text></g>
<g class="rnum"><text class="m" x="1850" y="855">29</text><text class="m" x="1850" y="871">30</text><text class="m" x="1850" y="903">25</text><text class="m" x="1850" y="919">37</text><text class="m" x="1850" y="935">39</text><text class="m" x="1850" y="951">40</text><text class="m" x="1850" y="967">38</text><text class="m" x="1847" y="999">1</text><text class="m" x="1850" y="1015">42</text><text class="m" x="1847" y="1031">7</text><text class="m" x="1850" y="1047">13</text><text class="m" x="1850" y="1063">33</text><text class="m" x="1850" y="1079">43</text><text class="m" x="1847" y="1095">8</text><text class="m" x="1850" y="1111">18</text><text class="m" x="1850" y="1127">41</text><text class="m" x="1850" y="1143">48</text><text class="m" x="1847" y="1159">2</text><text class="m" x="1850" y="1175">34</text><text class="m" x="1850" y="1207">45</text><text class="m" x="1850" y="1223">46</text><text class="m" x="1850" y="1239">44</text><text class="m" x="1850" y="1255">47</text></g>
<g class="nets"><text class="s" x="1429" y="861">ADC_IN</text><text class="s" x="1429.3" y="965.7">SAM_BA</text><text class="s" x="1429.3" y="981.7">SAM_BA</text><text class="s" x="1429.3" y="997.7">SAM_BA</text><text class="s" x="1429.3" y="1045">RXD</text><text class="s" x="1429.3" y="1061">TXD</text><text class="s" x="1429.3" y="1077">PWM</text><text class="s" x="1429.3" y="1109">DRXD</text><text class="s" x="1429.3" y="1125">DTXD</text><text class="s" x="1421" y="1141">CS</text><text class="s" x="1421" y="1173">MOSI</text><text class="s" x="1421" y="1189">SCK</text><text class="s" x="1421" y="1205">US_S</text><text class="s" x="1421" y="1221.7">STARTED_TIME</text>
<text class="s" x="1905" y="869">SAM_BA1</text><text class="s" x="1914" y="997.3">+1.8V</text><text class="s" x="1915" y="1029.3">+3.3V_P</text><text class="s" x="1914" y="1093.3">+1.8V</text><text class="s" x="1910" y="1174">GND</text><text class="s" x="1905" y="1205">XOUT</text><text class="s" x="1905" y="1222">XIN</text><text class="s" x="1905" y="1238">GND</text><text class="s" x="1905" y="1253">PLLRC</text></g></g>
<g id="R23"><rect class="r" x="1509" y="1372.7" width="48.3" height="16.6"/><text class="v" x="1533" y="1381">102</text><use href="#sl" x="1533" y="1381"/><text class="l" x="1533.3" y="1404.3" style="font-size:16px">R23</text><text class="s" x="1437.3" y="1372.7">+3.3V_P</text><text class="s" x="1437.3" y="1413.3">SAM_BA</text></g>
<g id="JMP1"><text x="1614.3" y="1340" style="font-size:13.5px;fill:#333;stroke-width:0">JMP1</text><text x="1620.7" y="1355.7" style="font-size:13.5px;fill:#333;stroke-width:0">SAM-BA RESTORE</text></g>
<g id="P1"><use href="#star" x="1501" y="1484.3"/><text class="l" x="1500" y="1468.3" style="font-size:16px">P1</text><text class="s" x="1437.3" y="1477.3">SAM_BA</text></g>
<g id="P2"><use href="#star" x="1501" y="1516.7"/><text class="l" x="1501" y="1500.7" style="font-size:16px">P2</text><text class="s" x="1436.7" y="1509.3">SAM_BA1</text></g>
<g id="P3"><use href="#star" x="1501" y="1548.7"/><text class="l" x="1501" y="1532.7" style="font-size:16px">P3</text><text class="s" x="1437.3" y="1541.7">DTXD</text></g>
<g id="P4"><use href="#star" x="1501" y="1576.7"/><text class="l" x="1501" y="1560.7" style="font-size:16px">P4</text><text class="s" x="1441" y="1569.3">DRXD</text></g>
<g id="P5"><use href="#star" x="1501" y="1608.7"/><text class="l" x="1501" y="1592.7" style="font-size:16px">P5</text><text class="s" x="1441" y="1601.7">GND</text></g>
<g id="ZQ2"><path class="pl" d="M2012.7 936H2039M2012.7 967.7H2039"/><rect class="r" x="2009.7" y="943.3" width="33" height="16.7"/><text class="l" x="1990" y="952.7" style="font-size:16px">ZQ2</text><text class="s" x="1987.7" y="913.3">XIN</text><text class="s" x="1987.7" y="977.3">XOUT</text></g>
<g id="C21C28"><path class="pl" d="M2060 909V930.7M2067.3 909V930.7M2060 974V995M2067.3 974V995"/><text class="s" transform="rotate(-90 2012.3 900)" x="2012.3" y="900">18pF C21</text><text class="s" transform="rotate(-90 2116.7 1012.7)" x="2116.7" y="1012.7">18pF C28</text></g>
<g id="R24"><rect class="r" x="1997.7" y="1035.7" width="16.3" height="48.6"/><path class="c" d="M2001.7 1047.3L2009.3 1056M2001.7 1064L2009.3 1072.7"/><text class="l" x="2030" y="1045" style="font-size:16px">R24</text><text class="l" x="2030" y="1068.3" style="font-size:16px">1k5</text><text class="s" x="1970.3" y="1012">PLLRC</text></g>
<g id="C22C23"><path class="pl" d="M1960 1084H1980.7M1960 1090H1980.7M1995 1128.7H2015.7M1995 1135H2015.7"/><text class="s" transform="rotate(-90 1959 1066.7)" x="1959" y="1066.7">C22</text><text class="s" transform="rotate(-90 2018.3 1144)" x="2018.3" y="1144">C23</text><text class="s" transform="rotate(-90 2042.3 1139.3)" x="2042.3" y="1139.3">18nF</text></g>
<g id="C24C27"><rect class="b" x="2161.7" y="1071.7" width="31.6" height="15"/><text class="s" x="2177.5" y="1079.2">+1.8V</text><path class="pl" d="M2151 1138.3H2172M2151 1145H2172M2185 1137.7H2210.7M2185 1146H2210.7"/><text class="l" x="2190" y="1129.3" style="font-size:16px">+</text><text class="s" x="2145.7" y="1126.7">C24</text><text class="s" x="2145.7" y="1159.3">1nF</text><text class="l" x="2230" y="1127.3" style="font-size:16px">2.2uF</text><text class="l" x="2223.3" y="1158.3" style="font-size:16px">C27</text><text class="l" transform="rotate(-90 2242.7 1150)" x="2242.7" y="1150" style="font-size:16px">C26</text></g>
<g id="C0_1"><rect class="b" x="2258.7" y="1060" width="46.3" height="14.3"/><text class="s" x="2281.8" y="1067">+3.3V_P</text><path class="pl" d="M2271 1130.7H2292M2271 1137.3H2292"/><text class="l" transform="rotate(-90 2274 1151.7)" x="2274" y="1151.7">0.1</text></g>
<g id="DA2"><rect class="r" x="2094" y="1280" width="64.3" height="47.7"/><text class="l" x="2125.7" y="1265">DA2</text><text class="p" x="2126" y="1296.7">+IN OUT</text><text class="p" x="2126" y="1312.7">GND</text><text class="p" x="2085.3" y="1288.3">1</text><text class="p" x="2166" y="1288.3">3</text><text class="p" x="2117.3" y="1344">2</text><rect class="b" x="2034.3" y="1274" width="23" height="14.3"/><text class="s" x="2045.8" y="1281">+5V</text></g>
<g id="DA2caps"><path class="pl" d="M2195 1328.3H2215.7M2195 1336H2215.7M2253.3 1332.3H2278.3M2253.3 1340H2278.3M2287.3 1332.3H2308.3M2287.3 1340H2308.3"/><text class="s" transform="rotate(-90 2226 1333.3)" x="2226" y="1333.3">100nF</text><text class="s" transform="rotate(-90 2237.7 1335)" x="2237.7" y="1335">C3</text><text class="v" x="2250" y="1320" style="stroke-width:.2">{Value}</text><text class="s" transform="rotate(-90 2317.7 1335)" x="2317.7" y="1335">100nF</text><text class="s" transform="rotate(-90 2330 1335)" x="2330" y="1335">C32</text><rect class="b" x="2275" y="1265.7" width="46.7" height="14.3"/><text class="s" x="2298.3" y="1272.8">+3.3V_P</text></g>
</svg>
